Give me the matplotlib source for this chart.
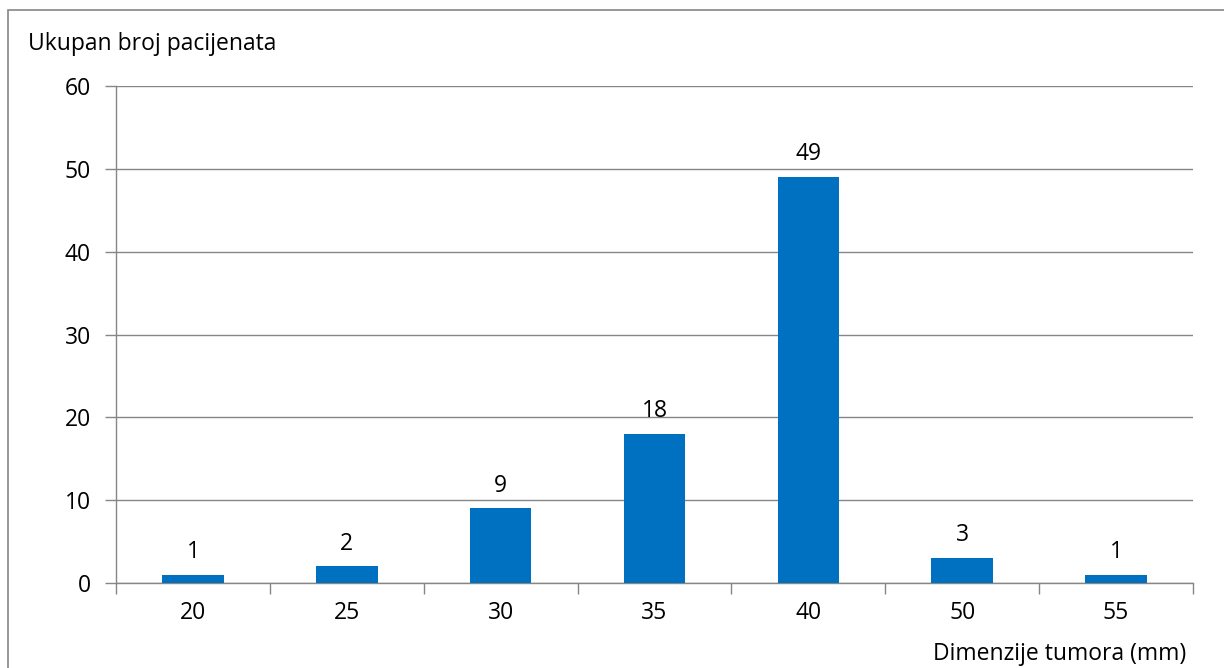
import matplotlib
matplotlib.use("Agg")
from matplotlib import pyplot as plt
from matplotlib.patches import Rectangle
import numpy as np

# data
sizes = ["20", "25", "30", "35", "40", "50", "55"]
patients = [1, 2, 9, 18, 49, 3, 1]
y_ticks = [0, 10, 20, 30, 40, 50, 60]

plt.rcParams['font.family'] = ['Open Sans', 'DejaVu Sans']
fs = 16.5

W, H = 1224, 668
fig = plt.figure(figsize=(W / 100, H / 100), dpi=100)
ax = fig.add_axes([116 / W, 1 - 583 / H, (1193 - 116) / W, (583 - 86) / H])

grid_col = "#868686"
x = np.arange(len(sizes))
bars = ax.bar(x, patients, width=0.4, color="#0070C0", zorder=3)

for xi, v in zip(x, patients):
    ax.text(xi, v + 1.3, str(v), ha="center", va="bottom", fontsize=fs)

ax.set_xlim(-0.5, len(sizes) - 0.5)
ax.set_ylim(0, 60)
ax.set_yticks(y_ticks)
ax.set_yticklabels([str(t) for t in y_ticks], fontsize=fs)
ax.yaxis.grid(True, color=grid_col, linewidth=1, zorder=0)

ax.set_xticks(x)
ax.set_xticklabels(sizes, fontsize=fs)
ax.set_xticks(np.arange(len(sizes) + 1) - 0.5, minor=True)
ax.tick_params(axis="x", which="major", length=0, pad=13)
ax.tick_params(axis="x", which="minor", length=8, width=1, color=grid_col, direction="out")
ax.tick_params(axis="y", length=8, width=1, color=grid_col, direction="out", pad=10)

for s in ["top", "right"]:
    ax.spines[s].set_visible(False)
for s in ["left", "bottom"]:
    ax.spines[s].set_color(grid_col)
    ax.spines[s].set_linewidth(1)

fig.text(28 / W, 1 - 44 / H, "Ukupan broj pacijenata", ha="left", va="center", fontsize=fs)
fig.text(1186 / W, 1 - 654 / H, "Dimenzije tumora (mm)", ha="right", va="center", fontsize=fs)

# outer chart border
fig.patches.append(Rectangle((8 / W, -0.1), 1.2, 1.1 - 10 / H, transform=fig.transFigure,
                             fill=False, edgecolor=grid_col, linewidth=1.2))

fig.savefig("out.png", dpi=100)
